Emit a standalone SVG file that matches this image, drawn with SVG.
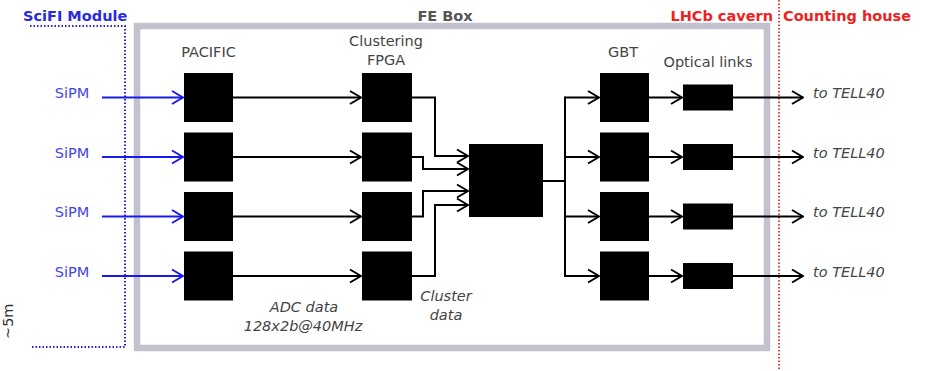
<svg xmlns="http://www.w3.org/2000/svg" width="940" height="371" viewBox="0 0 940 371">
<defs>
<style>
text{font-family:"DejaVu Sans","Liberation Sans",sans-serif;font-size:14.5px}
.lbl{fill:#444}
.it{fill:#444;font-style:italic}
.blk{fill:#000}
.ln{fill:none;stroke:#000;stroke-width:2}
.bl{fill:none;stroke:#1a1aee;stroke-width:2}
</style>
<marker id="ah" viewBox="0 0 13 16" refX="12" refY="8" markerWidth="13" markerHeight="16" markerUnits="userSpaceOnUse" orient="auto">
<path d="M1,1.5 L12,8 L1,14.5" fill="none" stroke="#000" stroke-width="2"/>
</marker>
<marker id="ahb" viewBox="0 0 13 16" refX="12" refY="8" markerWidth="13" markerHeight="16" markerUnits="userSpaceOnUse" orient="auto">
<path d="M1,1.5 L12,8 L1,14.5" fill="none" stroke="#1a1aee" stroke-width="2"/>
</marker>
</defs>
<rect width="940" height="371" fill="#fff"/>

<g id="regions">
<rect x="137" y="26" width="630" height="322" fill="none" stroke="#c2c2ce" stroke-width="6.5"/>
<text x="445" y="20.5" text-anchor="middle" font-weight="bold" fill="#555">FE Box</text>
<path d="M30,26 H125 V347 H30" fill="none" stroke="#2222dd" stroke-width="2" stroke-dasharray="1.5,2"/>
<text x="23" y="20.5" font-weight="bold" fill="#2a2add">SciFI Module</text>
<line x1="779" y1="0" x2="779" y2="371" stroke="#e82a2a" stroke-width="1.8" stroke-dasharray="1.5,2"/>
<text x="773" y="20.5" text-anchor="end" font-weight="bold" fill="#ee2222">LHCb cavern</text>
<text x="783" y="20.5" font-weight="bold" fill="#ee2222">Counting house</text>
<text transform="translate(12.5,339) rotate(-90)" font-size="17.5" fill="#333">~5m</text>
</g>

<g id="connectors">
<path class="bl" d="M102,97.5 H183" marker-end="url(#ahb)"/>
<path class="bl" d="M102,157 H183" marker-end="url(#ahb)"/>
<path class="bl" d="M102,216.5 H183" marker-end="url(#ahb)"/>
<path class="bl" d="M102,276 H183" marker-end="url(#ahb)"/>
<path class="ln" d="M233,97.5 H361" marker-end="url(#ah)"/>
<path class="ln" d="M233,157 H361" marker-end="url(#ah)"/>
<path class="ln" d="M233,216.5 H361" marker-end="url(#ah)"/>
<path class="ln" d="M233,276 H361" marker-end="url(#ah)"/>
<path class="ln" d="M412,97.5 H435 V156 H468" marker-end="url(#ah)"/>
<path class="ln" d="M412,157 H423 V169 H468" marker-end="url(#ah)"/>
<path class="ln" d="M412,216.5 H423 V191 H468" marker-end="url(#ah)"/>
<path class="ln" d="M412,276 H435 V205 H468" marker-end="url(#ah)"/>
<path class="ln" d="M543,181 H565 M565,96.5 V277"/>
<path class="ln" d="M565,97.5 H599" marker-end="url(#ah)"/>
<path class="ln" d="M565,157 H599" marker-end="url(#ah)"/>
<path class="ln" d="M565,216.5 H599" marker-end="url(#ah)"/>
<path class="ln" d="M565,276 H599" marker-end="url(#ah)"/>
<path class="ln" d="M649,97.5 H682" marker-end="url(#ah)"/>
<path class="ln" d="M649,157 H682" marker-end="url(#ah)"/>
<path class="ln" d="M649,216.5 H682" marker-end="url(#ah)"/>
<path class="ln" d="M649,276 H682" marker-end="url(#ah)"/>
<path class="ln" d="M733,97.5 H803" marker-end="url(#ah)"/>
<path class="ln" d="M733,157 H803" marker-end="url(#ah)"/>
<path class="ln" d="M733,216.5 H803" marker-end="url(#ah)"/>
<path class="ln" d="M733,276 H803" marker-end="url(#ah)"/>
</g>

<g id="sipm">
<text x="72" y="98" text-anchor="middle" fill="#4444ee">SiPM</text>
<text x="72" y="157.5" text-anchor="middle" fill="#4444ee">SiPM</text>
<text x="72" y="217" text-anchor="middle" fill="#4444ee">SiPM</text>
<text x="72" y="276.5" text-anchor="middle" fill="#4444ee">SiPM</text>
</g>

<g id="pacific">
<text class="lbl" x="208.5" y="57" text-anchor="middle">PACIFIC</text>
<rect class="blk" x="184" y="73" width="49" height="49"/>
<rect class="blk" x="184" y="132.5" width="49" height="49"/>
<rect class="blk" x="184" y="192" width="49" height="49"/>
<rect class="blk" x="184" y="251.5" width="49" height="49"/>
</g>

<g id="fpga">
<text class="lbl" x="386" y="45.5" text-anchor="middle">Clustering</text>
<text class="lbl" x="386" y="64.5" text-anchor="middle">FPGA</text>
<rect class="blk" x="362" y="73" width="50" height="49"/>
<rect class="blk" x="362" y="132.5" width="50" height="49"/>
<rect class="blk" x="362" y="192" width="50" height="49"/>
<rect class="blk" x="362" y="251.5" width="50" height="49"/>
</g>

<g id="central">
<rect class="blk" x="469" y="144" width="74" height="73"/>
</g>

<g id="gbt">
<text class="lbl" x="623" y="57" text-anchor="middle">GBT</text>
<rect class="blk" x="600" y="73" width="49" height="49"/>
<rect class="blk" x="600" y="132.5" width="49" height="49"/>
<rect class="blk" x="600" y="192" width="49" height="49"/>
<rect class="blk" x="600" y="251.5" width="49" height="49"/>
</g>

<g id="optical">
<text class="lbl" x="708" y="67" text-anchor="middle">Optical links</text>
<rect class="blk" x="683" y="84.5" width="50" height="26"/>
<rect class="blk" x="683" y="144" width="50" height="26"/>
<rect class="blk" x="683" y="203.5" width="50" height="26"/>
<rect class="blk" x="683" y="263" width="50" height="26"/>
</g>

<g id="tell40">
<text class="it" x="813" y="98">to TELL40</text>
<text class="it" x="813" y="157.5">to TELL40</text>
<text class="it" x="813" y="217">to TELL40</text>
<text class="it" x="813" y="276.5">to TELL40</text>
</g>

<g id="annotations">
<text class="it" x="304" y="312" text-anchor="middle">ADC data</text>
<text class="it" x="303" y="331" text-anchor="middle">128x2b@40MHz</text>
<text class="it" x="446" y="300.5" text-anchor="middle">Cluster</text>
<text class="it" x="446" y="319.5" text-anchor="middle">data</text>
</g>
</svg>
